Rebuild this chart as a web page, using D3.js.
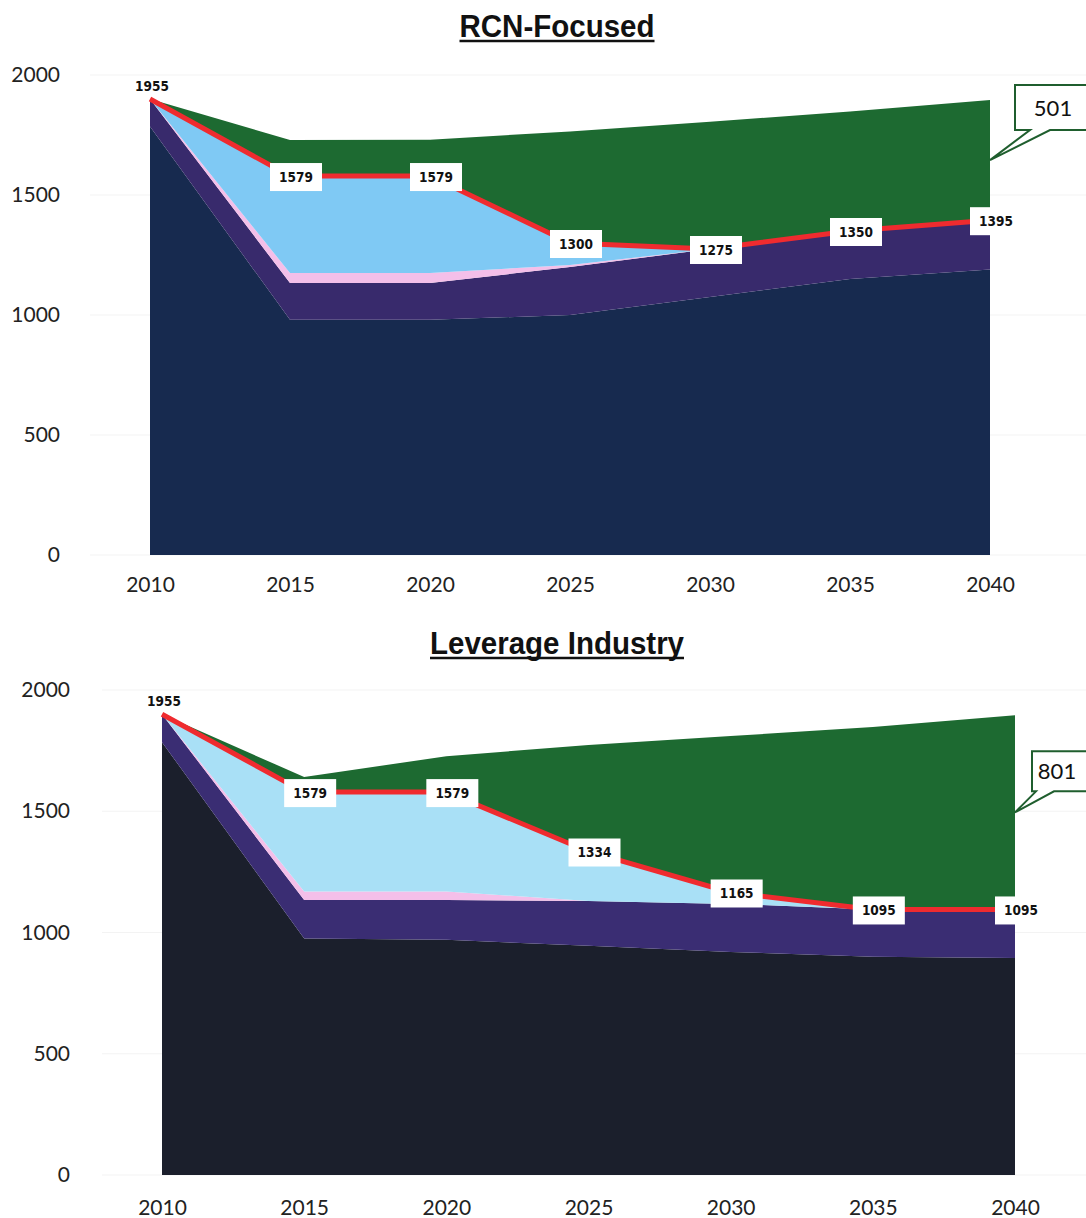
<!DOCTYPE html>
<html>
<head>
<meta charset="utf-8">
<script src="https://cdn.jsdelivr.net/npm/d3@7"></script>
<style>
  body { margin: 0; background: #fff; }
  svg { display: block; }
  .tick text { font-family: Lato, 'Open Sans', sans-serif; font-size: 21px; fill: #222; }
  .title { font-family: 'Liberation Sans Narrow', 'Liberation Sans', Arial, sans-serif; font-weight: bold; font-size: 32px; fill: #111; }
  .lbl { font-family: 'DejaVu Sans Condensed', 'DejaVu Sans', sans-serif; font-weight: bold; font-size: 13.5px; fill: #111; }
  .callout { font-family: Lato, 'Open Sans', sans-serif; font-size: 22px; fill: #111; }
</style>
</head>
<body>
<div id="chart"></div>
<script>
'use strict';

// shared x categories and y ticks
const years = [2010, 2015, 2020, 2025, 2030, 2035, 2040];
const yTicks = [0, 500, 1000, 1500, 2000];

// RCN-Focused
const rcnNavy   = [1785, 980, 980, 1000, 1075, 1150, 1190];
const rcnPurple = [115, 153, 153, 200, 200, 200, 205];
const rcnPink   = [0, 42, 42, 8, 0, 0, 0];
const rcnBlue   = [0, 404, 404, 92, 0, 0, 0];
const rcnGreen  = [0, 150, 151, 465, 530, 498, 501];
const rcnLabels = [1955, 1579, 1579, 1300, 1275, 1350, 1395];

// Leverage Industry
const levNavy   = [1785, 975, 970, 945, 920, 900, 895];
const levPurple = [115, 159, 164, 185, 198, 195, 200];
const levPink   = [0, 35, 35, 0, 0, 0, 0];
const levBlue   = [0, 410, 410, 204, 47, 0, 0];
const levGreen  = [0, 62, 148, 439, 645, 752, 801];
const levLabels = [1955, 1579, 1579, 1334, 1165, 1095, 1095];

const W = 1086, H = 1218;
let svg = d3.select('#chart').append('svg').attr('width', W).attr('height', H);

let keys = ['navy', 'purple', 'pink', 'blue', 'green'];

function drawChart(o) {
    let x = d3.scaleLinear().domain([2010, 2040]).range(o.xRange);
    let y = d3.scaleLinear().domain([0, 2000]).range(o.yRange);
    let g = svg.append('g');

    let table = years.map((yr, i) => ({
        year: yr, navy: o.navy[i], purple: o.purple[i], pink: o.pink[i], blue: o.blue[i], green: o.green[i]
    }));
    let series = d3.stack().keys(keys)(table);

    // faint gridlines
    g.selectAll('.grid').data(yTicks).join('line')
        .attr('x1', o.xRange[0] - 60).attr('x2', W)
        .attr('y1', d => y(d)).attr('y2', d => y(d))
        .attr('stroke', '#f3f3f3').attr('stroke-width', 1);

    let area = d3.area()
        .x(d => x(d.data.year))
        .y0(d => y(d[0]))
        .y1(d => y(d[1]));

    g.selectAll('.layer').data(series).join('path')
        .attr('d', area)
        .attr('fill', d => o.colors[d.key]);

    // red total line on top of the blue layer
    let blueTop = series.find(s => s.key === 'blue');
    let line = d3.line().x(d => x(d.data.year)).y(d => y(d[1]));
    g.append('path').datum(blueTop)
        .attr('d', line)
        .attr('fill', 'none')
        .attr('stroke', '#ef2b2f')
        .attr('stroke-width', 5);

    // axes
    g.append('g')
        .attr('transform', `translate(${o.xRange[0]},0)`)
        .call(d3.axisLeft(y).tickValues(yTicks).tickFormat(d3.format('d')).tickSize(0).tickPadding(o.yPad))
        .call(a => a.select('.domain').remove());
    g.append('g')
        .attr('transform', `translate(0,${o.yRange[0]})`)
        .call(d3.axisBottom(x).tickValues(years).tickFormat(d3.format('d')).tickSize(0).tickPadding(o.xPad))
        .call(a => a.select('.domain').remove());

    // title
    g.append('text').attr('class', 'title')
        .attr('x', o.titleX).attr('y', o.titleY)
        .attr('text-anchor', 'middle')
        .attr('textLength', o.titleW).attr('lengthAdjust', 'spacingAndGlyphs')
        .text(o.title);
    g.append('line')
        .attr('x1', o.titleX - o.titleW / 2).attr('x2', o.titleX + o.titleW / 2)
        .attr('y1', o.titleY + 4).attr('y2', o.titleY + 4)
        .attr('stroke', '#111').attr('stroke-width', 2.5);

    // value labels along the red line
    blueTop.forEach((d, i) => {
        let px = x(d.data.year), py = y(d[1]);
        if (i === 0) {
            g.append('text').attr('class', 'lbl')
                .attr('x', px + 2).attr('y', py - 8)
                .attr('text-anchor', 'middle')
                .text(o.labels[i]);
            return;
        }
        g.append('rect')
            .attr('x', px + 6 - 26).attr('y', py + 1 - 14)
            .attr('width', 52).attr('height', 28)
            .attr('fill', '#fff');
        g.append('text').attr('class', 'lbl')
            .attr('x', px + 6).attr('y', py + 1)
            .attr('dy', '0.36em')
            .attr('text-anchor', 'middle')
            .text(o.labels[i]);
    });

    // callout for the green gap at 2040
    let last = series.find(s => s.key === 'green');
    let end = last[last.length - 1];
    let c = o.callout;
    let tipX = x(end.data.year), tipY = y((end[0] + end[1]) / 2);
    let bx = tipX + c.dx, by = tipY + c.dy, bw = 100, bh = c.h;
    g.append('path')
        .attr('d', `M${bx},${by} H${bx + bw} V${by + bh} H${bx + c.tail[1]} L${tipX},${tipY} L${bx + c.tail[0]},${by + bh} H${bx} Z`)
        .attr('fill', '#fff')
        .attr('stroke', '#1f5e2e')
        .attr('stroke-width', 2);
    g.append('text').attr('class', 'callout')
        .attr('x', bx + c.textDx).attr('y', by + bh / 2)
        .attr('dy', '0.36em')
        .attr('text-anchor', 'middle')
        .text(end.data.green);
}

drawChart({
    title: 'RCN-Focused', titleX: 557, titleY: 37, titleW: 195,
    xRange: [150, 990], yRange: [555, 75], yPad: 90, xPad: 22,
    navy: rcnNavy, purple: rcnPurple, pink: rcnPink, blue: rcnBlue, green: rcnGreen, labels: rcnLabels,
    callout: { dx: 25, dy: -75, h: 45, textDx: 38, tail: [15, 35] },
    colors: { navy: '#172a4f', purple: '#382a6c', pink: '#f4bfe9', blue: '#7fc9f4', green: '#1d6a31' }
});

drawChart({
    title: 'Leverage Industry', titleX: 557, titleY: 654, titleW: 254,
    xRange: [162, 1015], yRange: [1175, 690], yPad: 92, xPad: 25,
    navy: levNavy, purple: levPurple, pink: levPink, blue: levBlue, green: levGreen, labels: levLabels,
    callout: { dx: 17, dy: -61, h: 40, textDx: 25, tail: [4, 22] },
    colors: { navy: '#1b1f2c', purple: '#3a2d73', pink: '#f4bfe9', blue: '#a9e0f6', green: '#1d6a31' }
});
</script>
</body>
</html>
